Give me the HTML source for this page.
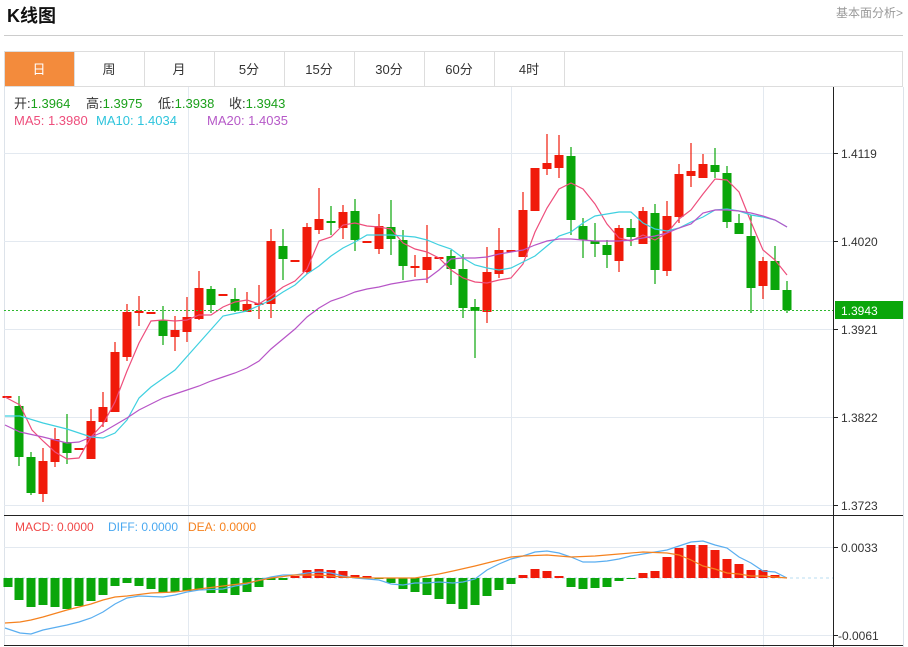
<!DOCTYPE html>
<html><head><meta charset="utf-8"><style>
body{margin:0;background:#fff;width:908px;height:647px;overflow:hidden;font-family:"Liberation Sans","Noto Sans CJK SC",sans-serif;}
svg{position:absolute;left:0;top:0}
</style></head><body>
<svg id="s" width="908" height="647" xmlns="http://www.w3.org/2000/svg" font-family="Liberation Sans, Noto Sans CJK SC, sans-serif">
<text x="7" y="22" font-size="18" font-weight="bold" fill="#111">K线图</text>
<text x="903" y="17" font-size="12" fill="#999" text-anchor="end">基本面分析&gt;</text>
<line x1="4" y1="35.5" x2="903" y2="35.5" stroke="#ccc"/>
<rect x="4.5" y="51.5" width="898" height="35" fill="#fff" stroke="#ddd"/>
<rect x="5" y="52" width="69" height="34" fill="#f38b3c"/>
<g stroke="#ddd"><line x1="74.5" y1="52" x2="74.5" y2="86"/><line x1="144.5" y1="52" x2="144.5" y2="86"/><line x1="214.5" y1="52" x2="214.5" y2="86"/><line x1="284.5" y1="52" x2="284.5" y2="86"/><line x1="354.5" y1="52" x2="354.5" y2="86"/><line x1="424.5" y1="52" x2="424.5" y2="86"/><line x1="494.5" y1="52" x2="494.5" y2="86"/><line x1="564.5" y1="52" x2="564.5" y2="86"/></g>
<g font-size="13" fill="#333" text-anchor="middle"><text x="39" y="74" fill="#fff">日</text><text x="109" y="74">周</text><text x="179" y="74">月</text><text x="249" y="74">5分</text><text x="319" y="74">15分</text><text x="389" y="74">30分</text><text x="459" y="74">60分</text><text x="529" y="74">4时</text></g>
<line x1="4.5" y1="87" x2="4.5" y2="645" stroke="#dde3ea"/>
<line x1="903.5" y1="87" x2="903.5" y2="647" stroke="#dde3ea"/>
<g stroke="#e3e9f0"><line x1="4" y1="153.5" x2="833" y2="153.5"/><line x1="4" y1="241.5" x2="833" y2="241.5"/><line x1="4" y1="329.5" x2="833" y2="329.5"/><line x1="4" y1="417.5" x2="833" y2="417.5"/><line x1="4" y1="505.5" x2="833" y2="505.5"/><line x1="4" y1="547.5" x2="833" y2="547.5"/><line x1="4" y1="635.5" x2="833" y2="635.5"/><line x1="188.5" y1="87" x2="188.5" y2="647"/><line x1="511.5" y1="87" x2="511.5" y2="647"/><line x1="763.5" y1="87" x2="763.5" y2="647"/></g>
<g id="g"></g>
<line x1="4" y1="515.5" x2="903" y2="515.5" stroke="#222"/>
<line x1="4" y1="645.5" x2="903" y2="645.5" stroke="#222"/>
<line x1="833.5" y1="87" x2="833.5" y2="647" stroke="#222"/>
<g stroke="#222"><line x1="833" y1="153.5" x2="838" y2="153.5"/><line x1="833" y1="241.5" x2="838" y2="241.5"/><line x1="833" y1="329.5" x2="838" y2="329.5"/><line x1="833" y1="417.5" x2="838" y2="417.5"/><line x1="833" y1="505.5" x2="838" y2="505.5"/><line x1="833" y1="547.5" x2="838" y2="547.5"/><line x1="833" y1="635.5" x2="838" y2="635.5"/></g>
<g font-size="12" fill="#333"><text x="841" y="158">1.4119</text><text x="841" y="246">1.4020</text><text x="841" y="334">1.3921</text><text x="841" y="422">1.3822</text><text x="841" y="510">1.3723</text><text x="841" y="552">0.0033</text><text x="838" y="640">-0.0061</text></g>
<line x1="4" y1="310.5" x2="833" y2="310.5" stroke="#2eb82e" stroke-dasharray="2,2"/>
<rect x="835" y="301" width="68" height="18" fill="#0aa60a"/>
<text x="841" y="315" font-size="12" fill="#fff">1.3943</text>
<g font-size="13" fill="#333"><text x="14" y="108">开:<tspan fill="#1aa01a">1.3964</tspan></text><text x="86" y="108">高:<tspan fill="#1aa01a">1.3975</tspan></text><text x="158" y="108">低:<tspan fill="#1aa01a">1.3938</tspan></text><text x="229" y="108">收:<tspan fill="#1aa01a">1.3943</tspan></text>
<text x="14" y="125" fill="#ee4e7c">MA5: 1.3980</text><text x="96" y="125" fill="#2ec4dc">MA10: 1.4034</text><text x="207" y="125" fill="#b659c8">MA20: 1.4035</text></g>
<g font-size="12"><text x="15" y="531" fill="#f04848">MACD: 0.0000</text><text x="108" y="531" fill="#4aa8f0">DIFF: 0.0000</text><text x="188" y="531" fill="#f5821f">DEA: 0.0000</text></g>
</svg>
<script>
var R="#f01a0a",G="#0aa60a",ns="http://www.w3.org/2000/svg",g=document.getElementById("g");
function el(t,a){var e=document.createElementNS(ns,t);for(var k in a)e.setAttribute(k,a[k]);g.appendChild(e);return e;}
function pl(p,c,w){el("polyline",{points:p.map(function(q){return q.join(",")}).join(" "),fill:"none",stroke:c,"stroke-width":w||1.2});}
el("line",{x1:4,y1:578,x2:833,y2:578,stroke:"#b8dcf0","stroke-dasharray":"3,3"});
var H=[[8,587],[19,600],[31,607],[43,605],[55,607],[67,609],[79,606],[91,601],[103,595],[115,586],[127,583],[139,586],[151,589],[163,593],[175,592],[187,591],[199,590],[211,593],[223,593],[235,595],[247,592],[259,587],[271,580],[283,580],[295,576],[307,570],[319,569],[331,570],[343,571],[355,575],[367,576],[379,579],[391,583],[403,589],[415,592],[427,595],[439,599],[451,604],[463,609],[475,605],[487,596],[499,590],[511,584],[523,575],[535,569],[547,571],[559,576],[571,587],[583,589],[595,588],[607,587],[619,581],[631,579],[643,573],[655,571],[667,557],[679,548],[691,545],[703,545],[715,550],[727,559],[739,564],[751,570],[763,570],[775,575]];
H.forEach(function(h){var x=h[0],y=h[1];var red=(x>=295&&x<=367)||(x>=523&&x<=559)||x>=643;var t=Math.min(y,578),b=Math.max(y,578);el("rect",{x:x-4.5,y:t,width:9,height:Math.max(b-t,1),fill:red?R:G});});
pl([[5,628],[20,633],[31,634],[43,630],[67,625],[79,622],[91,618],[103,612],[115,604],[127,598],[139,596],[163,597],[175,595],[187,592],[199,590],[223,589],[235,586],[247,584],[259,580],[271,577],[283,575],[295,575],[307,573],[319,572],[331,573],[343,576],[355,578],[379,580],[391,584],[403,585],[415,583],[427,583],[439,582],[453,583],[463,582],[475,579],[487,570],[499,564],[511,559],[523,556],[535,552],[547,551],[559,553],[571,557],[583,562],[595,562],[607,561],[619,559],[631,556],[643,554],[655,552],[667,550],[679,546],[691,542],[703,541],[715,545],[727,548],[739,557],[751,563],[763,571],[775,572],[787,578]],"#5aaef0");
pl([[5,623],[20,622],[31,620],[43,617],[67,610],[91,604],[103,600],[115,597],[127,596],[151,593],[175,592],[199,589],[223,586],[247,583],[271,578],[295,575],[319,575],[343,577],[367,578],[391,578],[415,578],[439,574],[453,571],[475,566],[499,560],[511,557],[523,556],[547,555],[571,557],[595,556],[619,554],[643,552],[667,553],[679,555],[691,560],[703,566],[715,569],[727,573],[739,574],[751,576],[763,576],[775,577],[787,578]],"#f5821f");
var C=[[7,397,397,397,397,R],[19,406,457,396,466,G],[31,457,493,452,495,G],[43,461,494,448,502,R],[55,439,462,428,467,R],[67,442,453,414,464,G],[79,449,449,449,449,R],[91,421,459,409,459,R],[103,407,422,392,427,R],[115,352,412,342,412,R],[127,312,357,304,361,R],[139,312,312,296,326,R],[151,313,313,313,313,R],[163,320,336,306,345,G],[175,330,337,316,351,R],[187,317,332,297,342,R],[199,288,319,271,320,R],[211,289,305,286,313,G],[223,295,295,295,295,R],[235,299,311,288,312,G],[247,304,312,292,312,R],[259,303,305,285,319,R],[271,241,304,229,318,R],[283,246,259,229,280,G],[295,261,261,261,261,R],[307,227,272,223,274,R],[319,219,230,188,234,R],[331,222,223,206,235,G],[343,212,228,205,239,R],[355,211,240,199,251,G],[367,242,242,242,242,R],[379,226,249,214,254,R],[391,227,239,200,255,G],[403,240,266,230,280,G],[415,266,268,255,277,R],[427,257,270,225,283,R],[439,258,258,258,258,R],[451,256,269,250,285,G],[463,269,308,254,318,G],[475,307,311,299,358,G],[487,272,312,247,323,R],[499,250,274,228,278,R],[511,251,251,251,251,R],[523,210,257,192,257,R],[535,168,211,168,211,R],[547,163,169,134,175,R],[559,155,168,135,178,R],[571,156,220,147,235,G],[583,226,240,218,258,G],[595,241,244,223,257,G],[607,245,255,240,268,G],[619,228,261,225,272,R],[631,228,237,219,246,G],[643,211,244,207,244,R],[655,213,270,204,284,G],[667,216,271,201,276,R],[679,174,217,164,223,R],[691,171,176,143,187,R],[703,164,178,154,178,R],[715,165,172,148,178,G],[727,173,222,166,228,G],[739,223,234,214,234,G],[751,236,288,215,313,G],[763,261,286,257,299,R],[775,261,290,246,290,G],[787,290,310,281,313,G]];
C.forEach(function(c){el("line",{x1:c[0],y1:c[3],x2:c[0],y2:c[4],stroke:c[5],"stroke-width":1.2});var h=c[2]-c[1];el("rect",{x:c[0]-4.5,y:c[1]-(h<2?1:0),width:9,height:Math.max(h,2),fill:c[5]});});
pl([[5,397],[20,405],[32,430],[43,441],[55,452],[67,459],[79,458],[91,437],[103,424],[115,402],[127,371],[139,343],[151,321],[163,320],[175,321],[187,320],[199,315],[211,315],[223,307],[235,302],[247,300],[259,304],[271,296],[283,287],[295,281],[307,269],[319,241],[331,237],[343,225],[355,223],[367,226],[379,227],[391,229],[403,243],[415,249],[427,252],[439,258],[451,270],[463,278],[475,282],[487,283],[499,280],[511,278],[523,264],[535,232],[547,208],[559,189],[571,183],[583,189],[595,204],[607,224],[619,238],[631,241],[643,235],[655,240],[667,233],[679,219],[691,210],[703,194],[715,179],[727,180],[739,192],[751,222],[763,250],[775,260],[787,275]],"#ee4e7c");
pl([[5,416],[20,416],[43,423],[67,429],[91,437],[103,438],[115,433],[127,420],[139,398],[151,387],[175,370],[199,343],[223,316],[247,311],[271,300],[283,292],[295,285],[307,274],[319,266],[331,256],[343,248],[355,242],[367,235],[379,235],[391,235],[403,236],[415,237],[427,240],[439,245],[451,249],[463,258],[475,265],[487,268],[499,270],[511,268],[523,262],[535,256],[547,246],[559,236],[571,232],[583,223],[595,216],[607,214],[619,212],[631,212],[643,223],[655,229],[667,231],[679,228],[691,222],[703,217],[715,210],[727,209],[739,211],[751,215],[763,217],[775,220],[787,227]],"#3fd0e0");
pl([[5,425],[20,432],[43,437],[67,443],[79,442],[91,437],[103,432],[115,425],[127,418],[139,410],[151,404],[163,398],[175,394],[187,390],[199,386],[211,381],[223,377],[235,373],[247,368],[259,361],[271,349],[283,339],[295,329],[307,317],[319,308],[331,301],[343,297],[355,292],[367,289],[379,287],[391,284],[403,282],[415,280],[427,279],[439,270],[451,259],[463,258],[475,258],[487,257],[499,254],[511,252],[523,250],[535,245],[547,241],[559,239],[571,239],[583,240],[595,241],[607,241],[619,241],[631,240],[643,238],[655,236],[667,233],[679,228],[691,224],[703,213],[715,210],[727,210],[739,211],[751,213],[763,216],[775,220],[787,227]],"#b755c7");
</script>
</body></html>
